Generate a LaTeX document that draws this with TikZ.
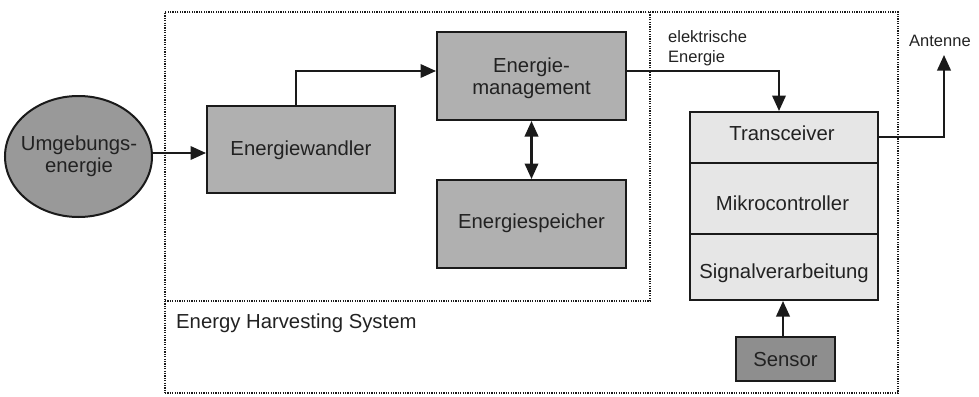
\documentclass[tikz,border=0pt]{standalone}
\usepackage{fontspec}
\setmainfont{Liberation Sans}
\usetikzlibrary{arrows.meta,shapes.geometric}
\definecolor{boxgray}{HTML}{B0B0B0}
\definecolor{ellgray}{HTML}{999999}
\definecolor{sensgray}{HTML}{8E8E8E}
\definecolor{lightgray}{HTML}{E6E6E6}
\definecolor{linecol}{HTML}{1A1A1A}
\definecolor{textcol}{HTML}{222222}
\begin{document}
\begin{tikzpicture}[x=1pt,y=-1pt,
  frame/.style={draw=linecol, line width=1.4pt, dash pattern=on 1.2pt off 1.2pt, inner sep=0pt},
  blk/.style={draw=linecol, line width=2pt, fill=boxgray, inner sep=0pt, minimum width=189pt, minimum height=88pt},
  part/.style={draw=linecol, line width=2pt, fill=lightgray, inner sep=0pt, minimum width=188pt},
  txt/.style={font=\fontsize{20.3}{24}\selectfont, text=textcol, inner sep=0pt, anchor=base},
  smalltxt/.style={font=\fontsize{16.5}{20}\selectfont, text=textcol, inner sep=0pt, anchor=base west},
  tip/.tip={Triangle[length=15.5pt,width=13.5pt]},
  arr/.style={draw=linecol, line width=2.1pt, -tip},
  arrtwo/.style={draw=linecol, line width=2.1pt, tip-tip}
]
\useasboundingbox (0,0) rectangle (979,396);

% frames
\node[frame, minimum width=733pt, minimum height=381pt] (outer) at (531.5,202.5) {};
\node[frame, minimum width=485pt, minimum height=289pt] (inner) at (407.5,156.5) {};

% source ellipse
\node[ellipse, draw=linecol, line width=2pt, fill=ellgray, inner sep=0pt,
      minimum width=147pt, minimum height=121pt] (umg) at (78.5,156.5) {};
\node[txt] (umgA) at (79,150) {Umgebungs-};
\node[txt] (umgB) at (79,172) {energie};

% energy harvesting blocks
\node[blk, minimum width=188pt, minimum height=87pt] (wandler) at (301,149.5) {};
\node[txt] (wandlerT) at (301,155) {Energiewandler};
\node[blk] (mgmt) at (531.5,76) {};
\node[txt] (mgmtA) at (531.5,72) {Energie-};
\node[txt] (mgmtB) at (531.5,94) {management};
\node[blk] (spei) at (531.5,224) {};
\node[txt] (speiT) at (531.5,228) {Energiespeicher};

% node blocks
\node[part, minimum height=51pt] (trans) at (784,137.5) {};
\node[part, minimum height=71pt] (mikro) at (784,198.5) {};
\node[part, minimum height=66pt] (signal) at (784,267) {};
\node[txt] (transT) at (782,140) {Transceiver};
\node[txt] (mikroT) at (782.5,210) {Mikrocontroller};
\node[txt] (signalT) at (784,278) {Signalverarbeitung};
\node[draw=linecol, line width=2pt, fill=sensgray, inner sep=0pt,
      minimum width=99pt, minimum height=44pt] (sensor) at (785.5,359) {};
\node[txt] (sensorT) at (785.5,366.5) {Sensor};

% labels
\node[smalltxt] (elA) at (668,43) {elektrische};
\node[smalltxt] (elB) at (668,63) {Energie};
\node[smalltxt] (antT) at (909,46.7) {Antenne};
\node[txt, anchor=base west] (ehs) at (176,328) {Energy Harvesting System};
\coordinate (anttip) at (944,55);

% connectors
\draw[arr] ([yshift=3.5pt]umg.east) -- ([yshift=3.5pt]umg.east -| wandler.west);
\draw[arr] ([xshift=-5pt]wandler.north) |- ([yshift=5pt]mgmt.west);
\draw[arrtwo] (mgmt.south) -- (spei.north);
\draw[arr] ([yshift=5pt]mgmt.east) -| ([xshift=-5pt]trans.north);
\draw[arr] ([yshift=0.5pt]trans.east) -| (anttip);
\draw[arr] ([xshift=-2.5pt]sensor.north) -- ([xshift=-2.5pt]sensor.north |- signal.south);
\end{tikzpicture}
\end{document}
